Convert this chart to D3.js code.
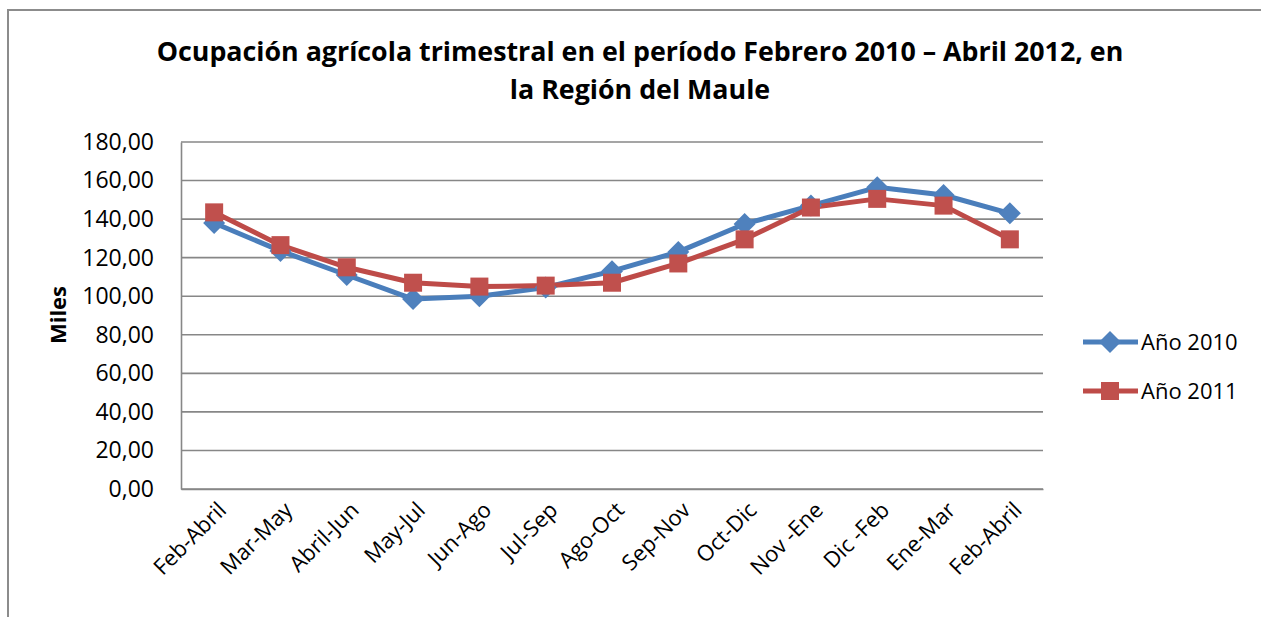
<!DOCTYPE html>
<html>
<head>
<meta charset="utf-8">
<script src="https://cdn.jsdelivr.net/npm/d3@7.9.0/dist/d3.min.js"></script>
<style>
  html, body { margin: 0; padding: 0; background: #fff; }
  svg { display: block; font-family: "Open Sans", sans-serif; }
</style>
</head>
<body>
<svg width="1261" height="617"></svg>
<script>
// data (miles de personas)
const categories = ["Feb-Abril", "Mar-May", "Abril-Jun", "May-Jul", "Jun-Ago", "Jul-Sep",
  "Ago-Oct", "Sep-Nov", "Oct-Dic", "Nov -Ene", "Dic -Feb", "Ene-Mar", "Feb-Abril"];
const values2010 = [138, 123.5, 111, 98.5, 100, 104.5, 113, 123, 137.5, 147, 156.5, 152.5, 143];
const values2011 = [143.5, 126.5, 115, 107, 105, 105.5, 107, 117, 129.5, 146, 150.5, 147, 129.5];
const yTicks = [0, 20, 40, 60, 80, 100, 120, 140, 160, 180];
const seriesNames = ["Año 2010", "Año 2011"];
const titleLines = ["Ocupación agrícola trimestral en el período Febrero 2010 – Abril 2012, en",
  "la Región del Maule"];

const svg = d3.select("svg");
const gridColor = "#878787";
const colors = ["#4A7EBB", "#BE4B48"];
const markFill = ["#4F81BD", "#C0504D"];

// chart frame (word document border)
svg.append("path")
  .attr("d", "M8,617 V10 H1261")
  .attr("fill", "none")
  .attr("stroke", "#8c8c8c")
  .attr("stroke-width", 2);

// title
svg.selectAll("text.title")
  .data(titleLines)
  .enter()
  .append("text")
  .attr("class", "title")
  .attr("x", 640)
  .attr("y", (d, i) => 61 + i * 38)
  .attr("text-anchor", "middle")
  .attr("font-weight", "bold")
  .attr("font-size", 24)
  .attr("fill", "#000")
  .text(d => d);

// squeeze title to the width in the picture
let t0 = svg.select("text.title").node();
let w0 = t0.getComputedTextLength();
let fs = 24 * 967 / w0;
svg.selectAll("text.title").attr("font-size", fs);

// scales
let x = d3.scaleBand().domain(d3.range(categories.length)).range([181, 1043]);
let y = d3.scaleLinear().domain([0, 180]).range([489, 142]);
let cx = i => x(i) + x.bandwidth() / 2;

// gridlines
svg.append("g")
  .selectAll("line")
  .data(yTicks)
  .enter()
  .append("line")
  .attr("x1", 181).attr("x2", 1043)
  .attr("y1", d => y(d)).attr("y2", d => y(d))
  .attr("stroke", gridColor)
  .attr("stroke-width", 1.6);

// y axis
let yAxis = svg.append("g")
  .attr("transform", "translate(181,0)")
  .call(d3.axisLeft(y).tickValues(yTicks).tickSize(0).tickPadding(27)
    .tickFormat(d => d3.format(".2f")(d).replace(".", ",")));
yAxis.select(".domain").attr("stroke", gridColor).attr("stroke-width", 1.6);
yAxis.selectAll("text")
  .attr("font-family", "Open Sans")
  .attr("font-size", 23)
  .attr("fill", "#000");

// x axis
let xAxis = svg.append("g")
  .attr("transform", "translate(0,489)")
  .call(d3.axisBottom(x).tickSize(0).tickFormat(i => categories[i]));
xAxis.select(".domain").attr("stroke", gridColor).attr("stroke-width", 1.6);
xAxis.selectAll("text")
  .attr("font-family", "Open Sans")
  .attr("font-size", 22)
  .attr("fill", "#000")
  .attr("text-anchor", "end")
  .attr("dy", "0.35em")
  .attr("transform", "translate(8,17) rotate(-45)")
  .attr("y", 0)
  .attr("x", 0);

// y axis title
svg.append("text")
  .attr("transform", "translate(58,315) rotate(-90)")
  .attr("text-anchor", "middle")
  .attr("dy", "0.35em")
  .attr("font-weight", "bold")
  .attr("font-size", 22)
  .text("Miles");

// lines
let series = [values2010, values2011];
let line = d3.line().x((d, i) => cx(i)).y(d => y(d));

series.forEach((vals, s) => {
  svg.append("path")
    .datum(vals)
    .attr("d", line)
    .attr("fill", "none")
    .attr("stroke", colors[s])
    .attr("stroke-width", 5)
    .attr("stroke-linejoin", "round");
});

// markers
function marker(g, s, px, py) {
  if (s === 0) {
    g.append("path")
      .attr("d", "M0,-11L11,0L0,11L-11,0Z")
      .attr("transform", `translate(${px},${py})`)
      .attr("fill", markFill[0]);
  } else {
    g.append("rect")
      .attr("x", px - 9).attr("y", py - 9)
      .attr("width", 18).attr("height", 18)
      .attr("fill", markFill[1]);
  }
}

series.forEach((vals, s) => {
  let g = svg.append("g");
  vals.forEach((v, i) => marker(g, s, cx(i), y(v)));
});

// legend
let legendY = [342, 391];
seriesNames.forEach((name, s) => {
  let g = svg.append("g");
  g.append("line")
    .attr("x1", 1083).attr("x2", 1138)
    .attr("y1", legendY[s]).attr("y2", legendY[s])
    .attr("stroke", colors[s])
    .attr("stroke-width", 5);
  marker(g, s, 1110, legendY[s]);
  g.append("text")
    .attr("x", 1141)
    .attr("y", legendY[s])
    .attr("dy", "0.35em")
    .attr("font-size", 22)
    .text(name);
});
</script>
</body>
</html>
